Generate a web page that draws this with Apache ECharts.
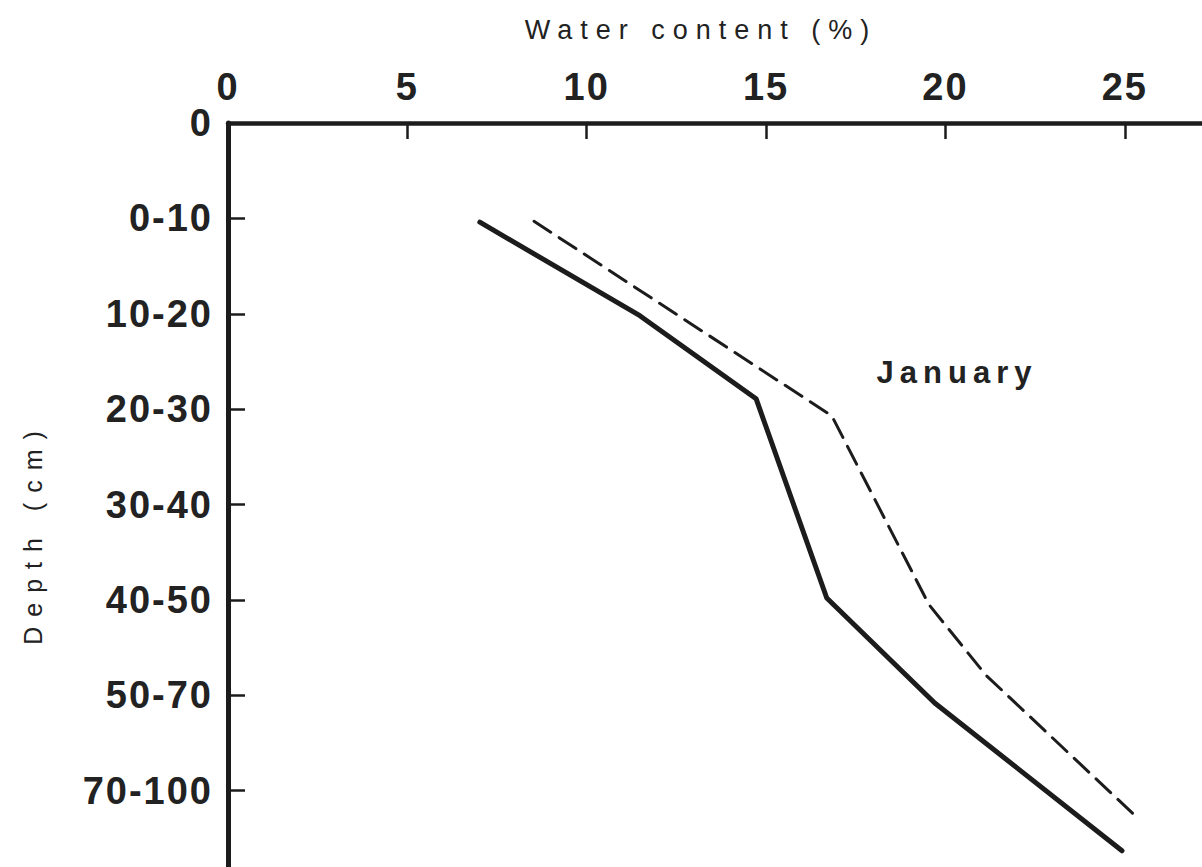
<!DOCTYPE html>
<html>
<head>
<meta charset="utf-8">
<script src="https://cdn.jsdelivr.net/npm/echarts@6/dist/echarts.min.js"></script>
<style>
  html, body { margin: 0; padding: 0; background: #fff; }
  #chart { width: 1202px; height: 867px; }
  #chart text { letter-spacing: 2px; }
  #chart text[style*="27px"] { letter-spacing: 8px; }
  #chart text[style*="25px"] { letter-spacing: 10px; }
  #chart text[style*="31px"] { letter-spacing: 6px; }
</style>
</head>
<body>
<div id="chart"></div>
<script>
// Depth layer labels (y axis, top to bottom)
const depthLabels = ['0', '0-10', '10-20', '20-30', '30-40', '40-50', '50-70', '70-100'];
// Solid curve: water content (%) and depth position (layer index)
const solidWater = [7.02, 11.48, 14.72, 16.69, 19.70, 24.92];
const solidDepth = [1.04, 2.02, 2.89, 4.98, 6.08, 7.63];
// Dashed curve
const dashedWater = [8.53, 16.83, 19.54, 21.13, 25.28];
const dashedDepth = [1.03, 3.07, 5.05, 5.79, 7.26];
const annotation = 'January';

const ink = '#1c1c1c';
const tickFont = "'Liberation Sans Narrow', 'Liberation Sans', Arial, sans-serif";
const textFont = "'Liberation Sans', Arial, sans-serif";

const chart = echarts.init(document.getElementById('chart'), null, { renderer: 'svg' });
chart.setOption({
  animation: false,
  backgroundColor: '#fff',
  grid: { left: 228, top: 123, right: 0, bottom: -3, containLabel: false },
  xAxis: {
    type: 'value',
    position: 'top',
    min: 0,
    max: 27.15,
    interval: 5,
    name: 'Water content (%)',
    nameLocation: 'middle',
    nameGap: 80,
    nameTextStyle: { fontFamily: textFont, fontSize: 27, color: '#222', padding: [0, 28, 0, 0] },
    axisLine: { show: true, lineStyle: { color: ink, width: 4.5 } },
    axisTick: { show: true, inside: true, length: 16, lineStyle: { color: ink, width: 2.5 } },
    splitLine: { show: false },
    axisLabel: {
      show: true,
      margin: 17,
      showMaxLabel: false,
      fontFamily: tickFont,
      fontSize: 38,
      fontWeight: 'bold',
      color: '#222',
      formatter: v => (v % 5 === 0 ? String(v) : '')
    }
  },
  yAxis: {
    type: 'value',
    inverse: true,
    min: 0,
    max: 7.8,
    interval: 1,
    name: 'Depth (cm)',
    nameLocation: 'middle',
    nameGap: 183,
    nameRotate: 90,
    nameTextStyle: { fontFamily: textFont, fontSize: 25, color: '#222', padding: [0, 76, 0, 0] },
    axisLine: { show: true, lineStyle: { color: ink, width: 5 } },
    axisTick: { show: true, inside: true, length: 17, lineStyle: { color: ink, width: 2.5 } },
    splitLine: { show: false },
    axisLabel: {
      show: true,
      margin: 15,
      showMaxLabel: false,
      fontFamily: tickFont,
      fontSize: 38,
      fontWeight: 'bold',
      color: '#222',
      formatter: v => (Number.isInteger(v) && depthLabels[v] !== undefined ? depthLabels[v] : '')
    }
  },
  series: [
    {
      type: 'line',
      name: 'solid',
      data: solidWater.map((w, i) => [w, solidDepth[i]]),
      showSymbol: false,
      symbol: 'none',
      lineStyle: { color: ink, width: 5, type: 'solid', cap: 'round', join: 'round' }
    },
    {
      type: 'line',
      name: 'dashed',
      data: dashedWater.map((w, i) => [w, dashedDepth[i]]),
      showSymbol: false,
      symbol: 'none',
      lineStyle: { color: ink, width: 3, type: [20, 10], cap: 'round', join: 'round' }
    }
  ],
  graphic: [
    {
      type: 'text',
      x: 957,
      y: 372,
      style: {
        text: annotation,
        fontFamily: textFont,
        fontSize: 31,
        fontWeight: 'bold',
        fill: '#222',
        align: 'center',
        verticalAlign: 'middle'
      }
    }
  ]
});
</script>
</body>
</html>
